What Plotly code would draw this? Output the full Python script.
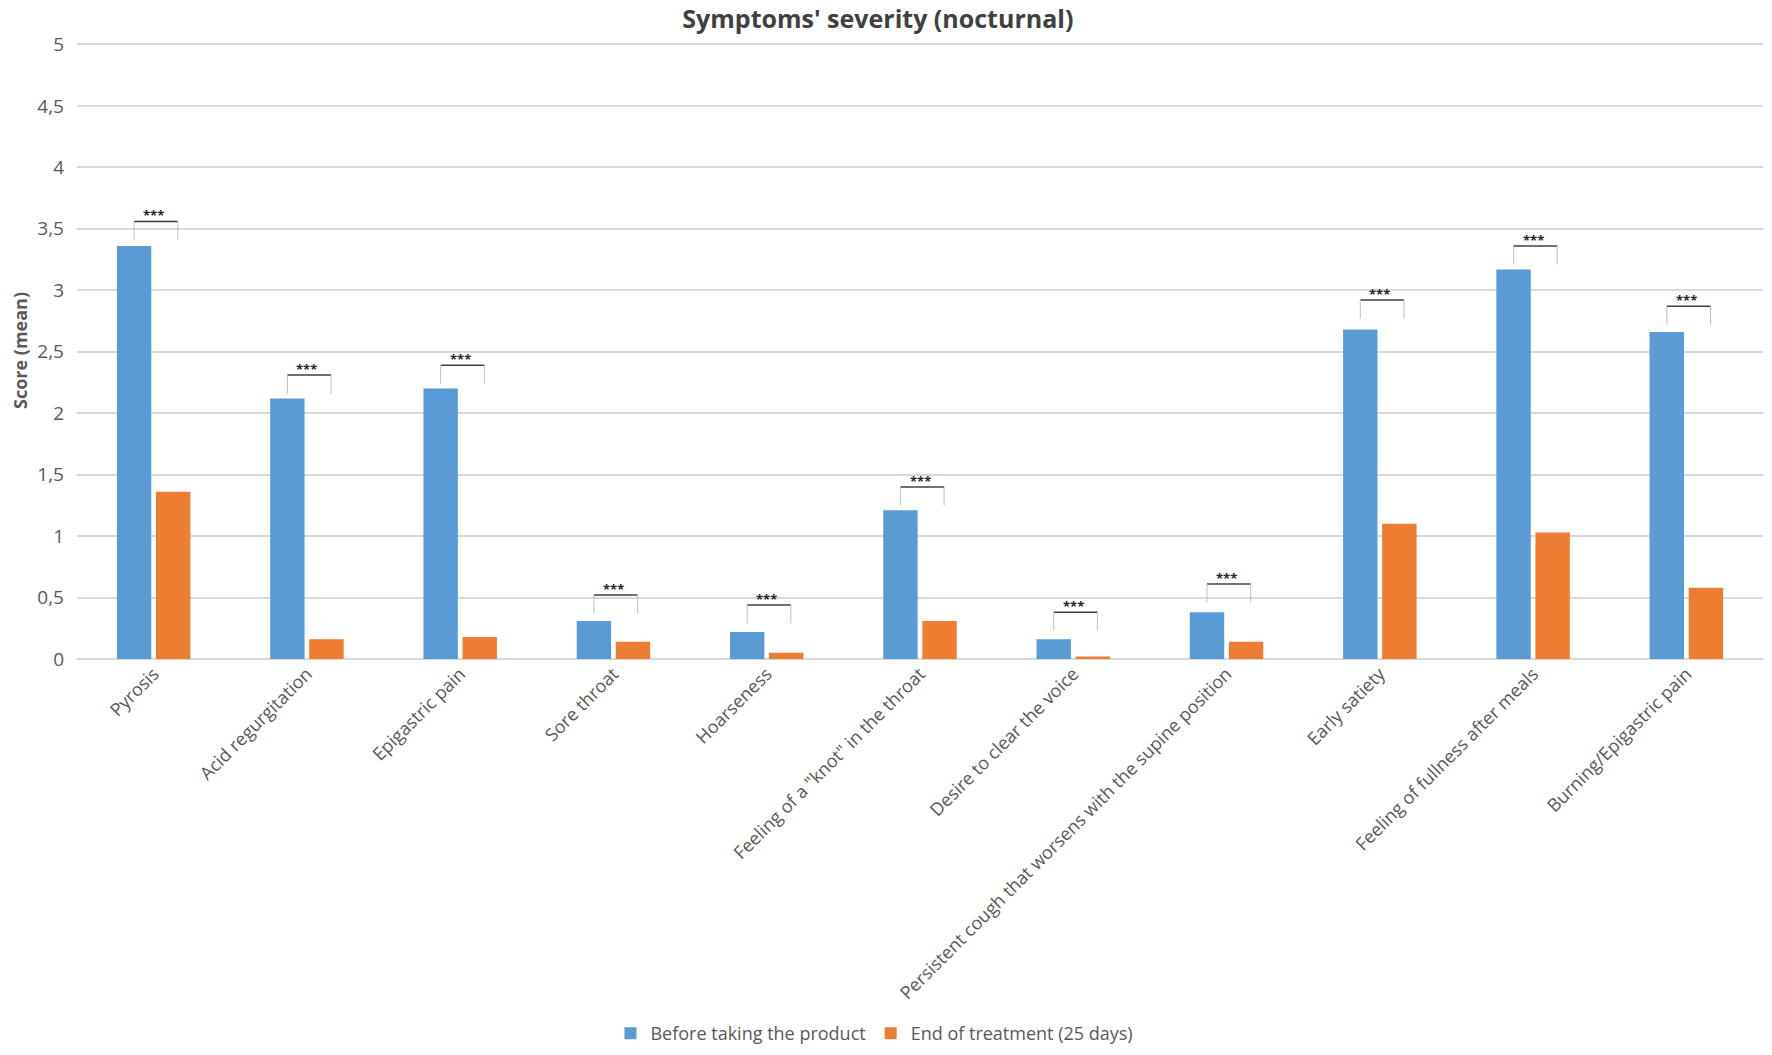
import plotly.graph_objects as go

symptoms = [
    "Pyrosis",
    "Acid regurgitation",
    "Epigastric pain",
    "Sore throat",
    "Hoarseness",
    'Feeling of a "knot" in the throat',
    "Desire to clear the voice",
    "Persistent cough that worsens with the supine position",
    "Early satiety",
    "Feeling of fullness after meals",
    "Burning/Epigastric pain",
]
before = [3.36, 2.12, 2.20, 0.31, 0.22, 1.21, 0.16, 0.38, 2.68, 3.17, 2.66]
after = [1.36, 0.16, 0.18, 0.14, 0.05, 0.31, 0.02, 0.14, 1.10, 1.03, 0.58]
bracket_y = [3.56, 2.31, 2.39, 0.52, 0.44, 1.40, 0.38, 0.61, 2.92, 3.36, 2.87]
signif = ["***"] * 11

y_ticks = [0, 0.5, 1, 1.5, 2, 2.5, 3, 3.5, 4, 4.5, 5]
y_labels = ["0", "0,5", "1", "1,5", "2", "2,5", "3", "3,5", "4", "4,5", "5"]

FONT = "Open Sans"
GREY = "#595959"
xs = list(range(len(symptoms)))

fig = go.Figure()
fig.add_trace(go.Bar(x=xs, y=before, name="Before taking the product",
                     marker_color="#5B9BD5"))
fig.add_trace(go.Bar(x=xs, y=after, name="End of treatment (25 days)",
                     marker_color="#ED7D31"))

# significance brackets
off = 0.1275
leg = 0.15
for i, yb in enumerate(bracket_y):
    fig.add_shape(type="line", x0=i - off, x1=i + off + 0.03, y0=yb, y1=yb,
                  line=dict(color="#404040", width=1.5))
    for xx in (i - off, i + off + 0.03):
        fig.add_shape(type="line", x0=xx, x1=xx, y0=yb, y1=yb - leg,
                      line=dict(color="#bfbfbf", width=1))
    fig.add_annotation(x=i, y=yb, text="<b>" + signif[i] + "</b>", showarrow=False,
                       yanchor="bottom", yshift=-5,
                       font=dict(family=FONT, size=13, color="#262626"))

# page body keeps its default 8px margin, so the figure is a bit smaller
fig.update_layout(
    width=1756, height=1039,
    template="none",
    plot_bgcolor="white", paper_bgcolor="white",
    barmode="group", bargap=0.49, bargroupgap=0.12,
    margin=dict(l=69, r=1, t=34, b=388, autoexpand=False),
    title=dict(text="<b>Symptoms' severity (nocturnal)</b>", x=0.475, xref="paper",
               y=0.998, yanchor="top",
               font=dict(family=FONT, size=25, color="#404040")),
    font=dict(family=FONT, color=GREY),
    legend=dict(orientation="h", x=0.473, xanchor="center", y=-0.607,
                yanchor="middle", font=dict(family=FONT, size=18, color=GREY),
                itemwidth=30, traceorder="normal"),
    showlegend=True,
)
fig.update_xaxes(tickvals=xs, ticktext=symptoms, tickangle=-45,
                 range=[-0.5, len(symptoms) - 0.5], automargin=False,
                 tickfont=dict(family=FONT, size=18, color=GREY),
                 showgrid=False, zeroline=False, showline=False, ticks="")
fig.update_yaxes(range=[0, 5.02], tickvals=y_ticks, ticktext=y_labels,
                 automargin=False, ticklabelstandoff=12,
                 tickfont=dict(family=FONT, size=19, color=GREY),
                 showgrid=True, gridcolor="#d9d9d9", gridwidth=1.5,
                 zeroline=True, zerolinecolor="#d9d9d9", zerolinewidth=1.5,
                 showline=False, ticks="",
                 title=dict(text="<b>Score (mean)</b>", standoff=13,
                            font=dict(family=FONT, size=18, color=GREY)))

fig.write_html("out.html")
